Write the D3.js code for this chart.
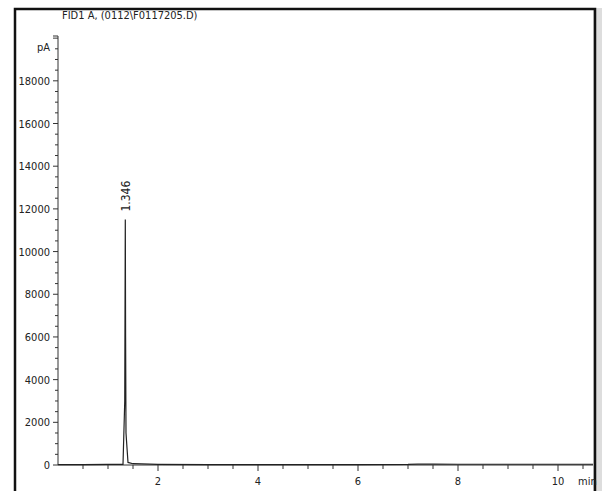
<!DOCTYPE html>
<html><head><meta charset="utf-8">
<script src="https://cdn.jsdelivr.net/npm/d3@7"></script>
<style>body{margin:0;background:#fff}text{font-family:"DejaVu Sans Condensed","Liberation Sans",sans-serif;fill:#222}</style>
</head><body>
<svg id="c" width="602" height="491"></svg>
<script>
// trace (min, pA)
const times = [0, 0.5, 1.0, 1.30, 1.335, 1.346, 1.352, 1.36, 1.38, 1.40, 1.5, 2.0, 3, 4, 5, 6, 7.0, 7.2, 7.5, 8, 9, 10, 10.7];
const signal = [20, 20, 25, 30, 3000, 11500, 6000, 1500, 800, 120, 60, 30, 20, 20, 20, 20, 25, 45, 40, 35, 35, 35, 35];
const xTicks = [2, 4, 6, 8, 10];
const yTicks = [0, 2000, 4000, 6000, 8000, 10000, 12000, 14000, 16000, 18000];
const peakLabel = "1.346", peakTime = 1.346, peakHeight = 11500;

const svg = d3.select("#c");
const x = d3.scaleLinear().domain([0, 10.7]).range([58, 593]);
const y = d3.scaleLinear().domain([0, 20100]).range([465, 36]);

// frame
svg.append("rect").attr("x", 593).attr("y", 8).attr("width", 9).attr("height", 483).attr("fill", "#ddd");
svg.append("path").attr("d", "M15,495V9H595V495")
  .attr("fill", "none").attr("stroke", "#111").attr("stroke-width", 2.5);

svg.append("text").attr("x", 62).attr("y", 19).attr("font-size", 11).text("FID1 A, (0112\\F0117205.D)");

// y axis
const gy = svg.append("g").attr("transform", "translate(58,0)");
gy.append("line").attr("y1", y(0)).attr("y2", 36).attr("stroke", "#333");
gy.selectAll(".mn").data(d3.range(0, 20001, 500)).join("line")
  .attr("x1", 0).attr("x2", d => d % 2000 === 0 ? -5 : -3).attr("y1", d => y(d)).attr("y2", d => y(d)).attr("stroke", "#333");
gy.append("line").attr("x1", 0).attr("x2", -5).attr("y1", 36).attr("y2", 36).attr("stroke", "#333");
gy.selectAll(".tl").data(yTicks).join("text").attr("x", -8).attr("y", d => y(d) + 4)
  .attr("text-anchor", "end").attr("font-size", 11).text(d => d);
gy.append("text").attr("x", -8).attr("y", 51).attr("text-anchor", "end").attr("font-size", 11).text("pA");

// x axis
const gx = svg.append("g").attr("transform", `translate(0,${y(0)})`);
gx.append("line").attr("x1", 58).attr("x2", 593).attr("stroke", "#333");
gx.selectAll(".mn").data(d3.range(0.5, 10.6, 0.5)).join("line")
  .attr("x1", d => x(d)).attr("x2", d => x(d)).attr("y1", 0).attr("y2", d => d % 2 === 0 ? 6 : 4).attr("stroke", "#333");
gx.selectAll(".tl").data(xTicks).join("text").attr("x", d => x(d)).attr("y", 20)
  .attr("text-anchor", "middle").attr("font-size", 11).text(d => d);
gx.append("text").attr("x", 578).attr("y", 20).attr("font-size", 11).text("min");

// trace
svg.append("path").datum(d3.zip(times, signal))
  .attr("d", d3.line().x(d => x(d[0])).y(d => y(d[1])))
  .attr("fill", "none").attr("stroke", "#222").attr("stroke-width", 1.2);

svg.append("text").attr("transform", `translate(${x(peakTime) + 5},${y(peakHeight) - 8}) rotate(-90)`)
  .attr("font-size", 12).attr("font-family", "DejaVu Sans").text(peakLabel);
</script>
</body></html>
